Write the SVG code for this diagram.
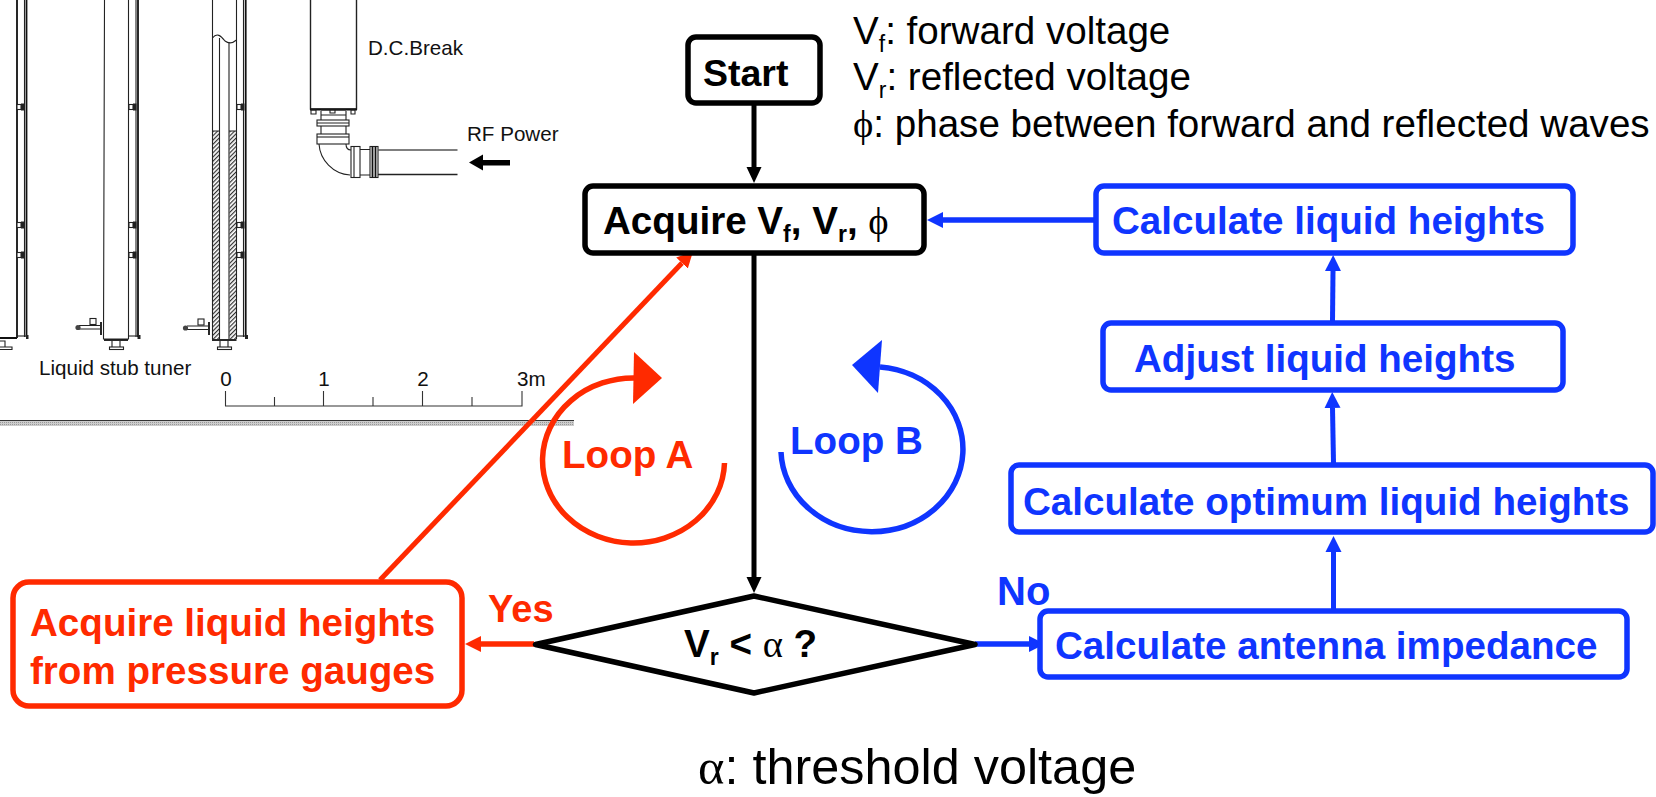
<svg xmlns="http://www.w3.org/2000/svg" width="1656" height="797" viewBox="0 0 1656 797">
<style>
.box{fill:#fff;stroke-width:5.5}
.k{stroke:#000}.r{stroke:#ff2a00}.b{stroke:#0f35ff}
.t{font-family:"Liberation Sans",Arial,sans-serif;font-weight:700;font-size:38.6px}
.tk{fill:#000}.tr{fill:#ff2a00}.tb{fill:#0f35ff}
.leg{font-family:"Liberation Sans",Arial,sans-serif;font-size:38.6px;fill:#000}
.sym{font-family:"Liberation Serif","DejaVu Serif",serif}
.lab{font-family:"Liberation Sans",Arial,sans-serif;font-size:20.6px;fill:#111}
.conn{fill:none;stroke-width:5}
.d{fill:none;stroke:#222;stroke-width:1.1}
.d2{fill:#fff;stroke:#222;stroke-width:1.1}
.thick{fill:none;stroke:#111;stroke-width:1.8}
.dk{fill:#222}
</style>
<defs>
<marker id="ak" markerUnits="userSpaceOnUse" markerWidth="20" markerHeight="20" viewBox="0 -10 20 20" refX="0" refY="0" orient="auto"><path d="M0-7.5L16 0L0 7.5Z" fill="#000"/></marker>
<marker id="ab" markerUnits="userSpaceOnUse" markerWidth="20" markerHeight="20" viewBox="0 -10 20 20" refX="0" refY="0" orient="auto"><path d="M0-8L16 0L0 8Z" fill="#0f35ff"/></marker>
<marker id="ar" markerUnits="userSpaceOnUse" markerWidth="20" markerHeight="20" viewBox="0 -10 20 20" refX="0" refY="0" orient="auto"><path d="M0-8L16 0L0 8Z" fill="#ff2a00"/></marker>
<pattern id="hatch" width="3" height="3" patternUnits="userSpaceOnUse" patternTransform="rotate(-45)"><rect width="3" height="3" fill="#fff"/><rect width="3" height="1.2" fill="#333"/></pattern>
<pattern id="gnd" width="2" height="2" patternUnits="userSpaceOnUse"><rect width="2" height="2" fill="#ccc"/><rect width="1" height="1" fill="#999"/></pattern>
<g id="flange"><rect x="-1" y="-2.5" width="4" height="5" class="d2"/><rect x="3" y="-3.5" width="3.5" height="7" class="dk"/></g>
</defs>

<g id="drawing">
<rect x="0" y="421" width="574" height="5" fill="url(#gnd)"/>
<path d="M0 420.5H574" stroke="#333" stroke-width="1.2"/>
<path class="thick" d="M17 0V338M0 338H17"/>
<path class="d" d="M24.500 0V337"/><path class="thick" d="M26.500 0V337"/>
<path class="d" d="M17 336H26.500"/><rect x="26" y="335" width="2.500" height="4" class="dk"/>
<path class="d" d="M0 341H5V347M0 347H12V349.500H0"/>
<use href="#flange" x="18" y="107"/><use href="#flange" x="18" y="225"/><use href="#flange" x="18" y="255"/>
<path class="d" d="M104.500 0L103.500 339H128.500V0"/>
<path class="d" d="M136 0V337"/><path class="thick" d="M138 0V337"/>
<path class="d" d="M128.500 336H138"/><rect x="137.500" y="335" width="3" height="4" class="dk"/>
<path class="thick" d="M104 340H128"/>
<path class="d" d="M112 341V347M120 341V347"/><rect x="109.500" y="347" width="14" height="2.500" class="d2"/>
<use href="#flange" x="130" y="107"/><use href="#flange" x="130" y="225"/><use href="#flange" x="130" y="255"/>
<path class="d" d="M79 325.500H100M79 329H100"/><circle cx="78" cy="327.500" r="2.600" fill="#444"/>
<rect x="90" y="318.500" width="6" height="6" class="d2"/><path class="thick" d="M101 322V335"/>
<rect x="212" y="131" width="7" height="208" fill="url(#hatch)"/>
<rect x="229.500" y="131" width="7" height="208" fill="url(#hatch)"/>
<path class="d" d="M212.500 38V339M236.500 41V339M219.500 38V339M229 42V339M212.500 131H219.500M229 131H236.500"/>
<path class="d" d="M212.500 0V38M236.500 0V41M212.500 38C217 32 221 36 225 41C229 44 233 43 236.500 40"/>
<path class="d" d="M243.500 0V337"/><path class="thick" d="M245.700 0V337"/>
<path class="d" d="M236.500 336H245.700"/><rect x="245" y="335" width="3" height="4" class="dk"/>
<path class="thick" d="M212 340H236.500"/>
<path class="d" d="M220 341V347M228 341V347"/><rect x="217.500" y="347" width="14" height="2.500" class="d2"/>
<use href="#flange" x="238" y="107"/><use href="#flange" x="238" y="225"/><use href="#flange" x="238" y="255"/>
<path class="d" d="M187 326H208M187 329.500H208"/><circle cx="185.500" cy="328" r="2.600" fill="#444"/>
<rect x="198" y="319" width="6" height="6" class="d2"/><path class="thick" d="M209 322V335"/>
<path class="d" style="stroke-width:1.4" d="M310.500 0V109H356.500V0"/>
<path class="thick" d="M310 109.500H357"/>
<path class="d" d="M311 110H316V114H311ZM330 110H335V113H330ZM351 110H355V114H351ZM321 110H346"/>
<path class="d" d="M321 111V120M346 111V120M321 115H346"/>
<rect x="317" y="120" width="32" height="6" class="d2"/>
<path class="d" d="M317 123H349M321 126V134M346 126V134"/>
<rect x="317" y="134" width="32" height="10" class="d2"/>
<path class="d" d="M317 137H349"/>
<path class="d" d="M319 144C320 160 333 174 350 175M346 144C346 148 348 150 351 150"/>
<rect x="351" y="146.500" width="9" height="31" class="d2"/>
<path class="d" d="M354 146.500V177.500M360 149.500H370M360 175H370"/>
<rect x="370" y="146.500" width="8" height="31" class="d2"/>
<path class="thick" d="M372.500 146.500V177.500M375.500 146.500V177.500"/>
<path class="d" style="stroke:#555;stroke-width:1.5" d="M378 150H457.500"/>
<path class="d" style="stroke-width:1.3" d="M378 174.500H457.500"/>
<path d="M469 162.500L483 154.500V160H510V165.500H483V170.500Z" fill="#000"/>
<text class="lab" x="368" y="55">D.C.Break</text>
<text class="lab" x="467" y="141">RF Power</text>
<text class="lab" x="39" y="375">Liquid stub tuner</text>
<path class="d" style="stroke:#333" d="M225.500 391V406H522V391M274.500 397V406M323.500 391V406M373 397V406M422.500 391V406M472 397V406"/>
<text class="lab" x="226" y="386" text-anchor="middle">0</text>
<text class="lab" x="324" y="386" text-anchor="middle">1</text>
<text class="lab" x="423" y="386" text-anchor="middle">2</text>
<text class="lab" x="517" y="386">3m</text>
</g>

<g id="connectors">
<path class="conn k" d="M754 105V167" marker-end="url(#ak)"/>
<path class="conn k" d="M754 254V577" marker-end="url(#ak)"/>
<path class="conn r" d="M380 580L682 263" marker-end="url(#ar)"/>
<path class="conn r" style="stroke-width:5.5" d="M534 644H481" marker-end="url(#ar)"/>
<path class="conn b" style="stroke-width:5.5" d="M975 644H1029" marker-end="url(#ab)"/>
<path class="conn b" style="stroke-width:5.5" d="M1095 220H943" marker-end="url(#ab)"/>
<path class="conn b" d="M1333.500 609V552" marker-end="url(#ab)"/>
<path class="conn b" d="M1333.500 463L1332.500 408" marker-end="url(#ab)"/>
<path class="conn b" d="M1332.500 321L1333 271" marker-end="url(#ab)"/>
<path class="conn r" style="stroke-width:5.5" d="M724.500 463A91 82.500 0 1 1 636 378"/>
<path d="M634 352L662 378L633 404Z" fill="#ff2a00"/>
<path class="conn b" style="stroke-width:5.5" d="M781 452A91 82.500 0 1 0 880 367"/>
<path d="M882 340L852 365L878 393Z" fill="#0f35ff"/>
</g>

<g id="start"><rect class="box k" x="688" y="37" width="132" height="66" rx="8"/><text class="t tk" style="font-size:37.5px" x="703" y="86">Start</text></g>
<g id="acquire"><rect class="box k" x="585" y="186" width="339" height="67" rx="8"/><text class="t tk" x="603" y="234">Acquire V<tspan font-size="23" dy="8">f</tspan><tspan dy="-8">, V</tspan><tspan font-size="23" dy="8">r</tspan><tspan dy="-8">, </tspan><tspan class="sym" font-weight="400">ϕ</tspan></text></g>
<g id="calc-heights"><rect class="box b" x="1096" y="186" width="477" height="67" rx="8"/><text class="t tb" x="1112" y="234">Calculate liquid heights</text></g>
<g id="adjust"><rect class="box b" x="1103" y="323" width="460" height="67" rx="8"/><text class="t tb" x="1134" y="372">Adjust liquid heights</text></g>
<g id="optimum"><rect class="box b" x="1011" y="465" width="642" height="67" rx="8"/><text class="t tb" x="1023" y="515">Calculate optimum liquid heights</text></g>
<g id="impedance"><rect class="box b" x="1040" y="611" width="587" height="66" rx="8"/><text class="t tb" x="1055" y="659">Calculate antenna impedance</text></g>
<g id="gauges"><rect class="box r" x="13" y="582" width="449" height="124" rx="16"/><text class="t tr" x="30" y="636">Acquire liquid heights</text><text class="t tr" x="30" y="684">from pressure gauges</text></g>
<g id="decision"><path d="M754 596L975 644.500L754 693L535.500 644.500Z" fill="#fff" stroke="#000" stroke-width="5.500" stroke-linejoin="round"/><text class="t tk" x="684" y="657">V<tspan font-size="23" dy="8">r</tspan><tspan dy="-8"> &lt; </tspan><tspan class="sym" font-weight="400">α</tspan> ?</text></g>

<text class="t tr" style="font-size:38px" x="488" y="622">Yes</text>
<text class="t tb" style="font-size:40px" x="997" y="605">No</text>
<text class="t tr" x="562" y="468">Loop A</text>
<text class="t tb" x="790" y="454">Loop B</text>

<g id="legend">
<text class="leg" x="853" y="44">V<tspan font-size="23" dy="8">f</tspan><tspan dy="-8">: forward voltage</tspan></text>
<text class="leg" x="853" y="90">V<tspan font-size="23" dy="8">r</tspan><tspan dy="-8">: reflected voltage</tspan></text>
<text class="leg" x="853" y="137"><tspan class="sym">ϕ</tspan>: phase between forward and reflected waves</text>
<text class="leg" style="font-size:50.4px" x="698" y="784"><tspan class="sym">α</tspan>: threshold voltage</text>
</g>
</svg>
